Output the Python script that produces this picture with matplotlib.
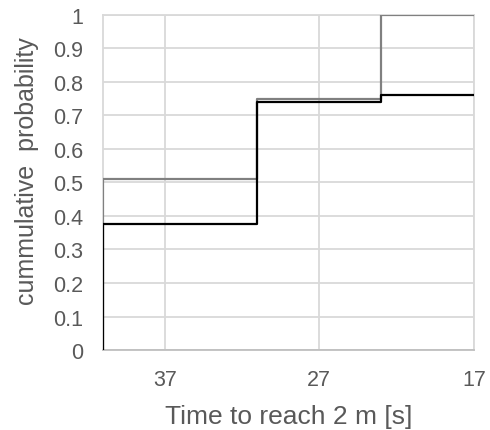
import matplotlib
matplotlib.use("Agg")
import matplotlib.pyplot as plt

plt.rcParams['font.family'] = ['Liberation Sans', 'DejaVu Sans']

# step positions (time to reach 2 m, s) and cumulative probabilities
t_steps = [41, 41, 31, 23, 17]
p_gray = [0.0, 0.51, 0.75, 1.0, 1.0]
p_black = [0.0, 0.375, 0.74, 0.76, 0.76]

x_ticks = [37, 27, 17]
y_ticks = [0, 0.1, 0.2, 0.3, 0.4, 0.5, 0.6, 0.7, 0.8, 0.9, 1]

fig = plt.figure(figsize=(4.9, 4.31), dpi=100)
ax = fig.add_axes([0.210, 0.1856, 0.757, 0.7774])

grid_c = '#d9d9d9'
text_c = '#595959'

ax.step(t_steps, p_gray, where='post', color='#808080', lw=1.6, zorder=3)
ax.step(t_steps, p_black, where='post', color='black', lw=1.6, zorder=4)

ax.set_xlim(41, 17)
ax.set_ylim(0, 1)
ax.set_xticks(x_ticks)
ax.set_yticks(y_ticks)
ax.set_yticklabels(['0', '0.1', '0.2', '0.3', '0.4', '0.5', '0.6', '0.7', '0.8', '0.9', '1'])
ax.grid(True, color=grid_c, lw=1.3, zorder=0)
ax.tick_params(length=0, labelsize=15.5, colors=text_c)
ax.tick_params(axis='y', pad=14)
ax.tick_params(axis='x', pad=14)

for s in ax.spines.values():
    s.set_color(grid_c)
    s.set_linewidth(1.3)
ax.spines['bottom'].set_color('#bfbfbf')

ax.set_xlabel('Time to reach 2 m [s]', fontsize=19, color=text_c, labelpad=10)
ax.set_ylabel('cummulative  probability', fontsize=18, color=text_c)
ax.yaxis.set_label_coords(-0.172, 0.537)

fig.savefig('out.png', dpi=100)
